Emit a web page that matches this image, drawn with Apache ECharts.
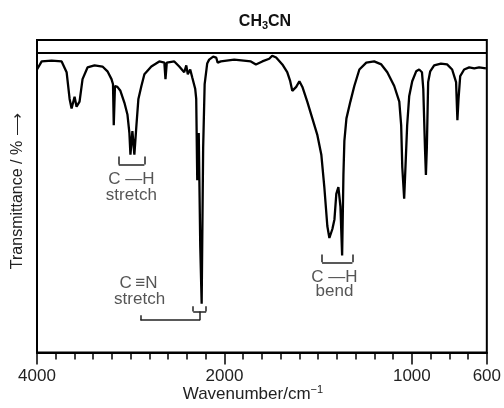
<!DOCTYPE html>
<html><head><meta charset="utf-8">
<script src="https://cdn.jsdelivr.net/npm/echarts@6/dist/echarts.min.js"></script>
<style>html,body{margin:0;padding:0;background:#fff}#c{width:504px;height:408px}</style>
</head><body><div id="c"></div>
<script>
// Spectrum: wavenumber (cm-1) and transmittance (%)
const wavenumbers = [4000,3950,3844,3737,3684,3652,3631,3599,3578,3546,3514,3461,3386,3301,3248,3205,3189,3181,3168,3142,3110,3067,3035,3014,3003,2982,2961,2939,2918,2886,2854,2780,2695,2641,2629,2615,2535,2482,2429,2407,2391,2365,2344,2312,2301,2290,2274,2258,2243,2227,2211,2184,2163,2120,2088,2072,2038,
1948,1859,1832,1798,1761,1745,1724,1691,1665,1649,1638,1617,1600,1584,1558,1531,1504,1483,1467,1451,1440,1424,1413,1403,1392,1381,1372,1365,1360,1349,1328,1307,1280,1243,1201,1163,1131,1094,1067,1057,1051,1041,1032,1025,1014,998,977,961,946,939,930,925,920,913,902,881,845,812,785,764,757,751,742,721,694,667,641,605];
const transmittance = [94.4,97.1,97.4,97.1,93.5,84.6,81.4,85.3,82.0,83.7,91.2,95.1,95.8,95.4,93.8,91.2,89.5,75.8,88.9,88.6,87.3,83.3,79.4,73.2,66.0,73.9,66.0,75.8,84.6,88.9,92.8,95.4,97.1,96.7,91.2,96.7,97.1,95.4,93.5,95.8,92.8,94.4,91.8,88.0,84.6,57.5,73.2,35.6,16.3,68.3,89.5,96.4,97.7,98.7,98.4,96.7,97.1,
97.7,97.1,96.1,97.1,98.0,99.0,98.4,96.1,93.5,90.5,87.3,88.6,90.5,88.6,83.7,78.1,72.5,66.0,55.2,42.2,38.2,41.2,44.4,52.9,55.2,48.7,32.4,59.5,70.6,78.1,83.7,88.9,94.4,96.7,97.1,96.1,93.5,88.9,83.7,75.8,61.8,51.3,65.0,75.8,85.6,90.5,93.8,94.4,93.5,87.9,68.3,59.2,68.3,90.2,93.8,95.8,96.4,96.1,94.4,90.2,77.5,84.6,92.2,94.4,95.1,94.8,95.1,94.8];
const tickLabels = [4000, 2000, 1000, 600];
const referenceLine = 100;

// Annotation texts: [wavenumber, transmittance, text]
const annotationTexts = [
  [2993, 57.8, 'C —H'], [2993, 52.6, 'stretch'],
  [2917, 23.2, 'C\u2009\u2261N'], [2905, 17.6, 'stretch'],
  [1413, 25.2, 'C —H'], [1413, 20.3, 'bend']
];
// Bracket segments: [w1, t1, w2, t2]
const bracketSegments = [
  [3128,65.4,3128,62.7],[3128,62.7,2854,62.7],[2854,62.7,2854,65.4],
  [2333,15.4,2333,13.7],[2333,13.7,2195,13.7],[2195,13.7,2195,15.4],
  [2260,13.7,2260,10.8],[2260,10.8,2897,10.8],[2897,10.8,2897,12.4],
  [1479,32.7,1479,30.1],[1479,30.1,1317,30.1],[1317,30.1,1317,32.7]
];

// Axis scale: 4000-2000 compressed 2x relative to 2000-600
function toU(w){ return w >= 2000 ? (4000 - w) / 2 : 1000 + (2000 - w); }
function fromU(u){ return u <= 1000 ? 4000 - 2 * u : 2000 - (u - 1000); }

const font = "'Liberation Sans', Arial, Helvetica, sans-serif";
const chart = echarts.init(document.getElementById('c'), null, {renderer: 'canvas'});

const spectrum = wavenumbers.map((w, i) => [toU(w), transmittance[i]]);
const tickU = tickLabels.map(toU);

chart.setOption({
  animation: false,
  backgroundColor: '#fff',
  title: {
    text: '{b|CH}{s|3}{b|CN}',
    left: 260, top: 8, textAlign: 'center',
    textStyle: {
      rich: {
        b: {fontFamily: font, fontWeight: 'bold', fontSize: 16, color: '#111'},
        s: {fontFamily: font, fontWeight: 'bold', fontSize: 11, color: '#111', padding: [7, 0, 0, 0]}
      }
    }
  },
  grid: {left: 37, top: 40, width: 450, height: 319, show: true, borderColor: '#000', borderWidth: 2, backgroundColor: 'transparent'},
  xAxis: [{
    type: 'value', min: 0, max: 2400, interval: 100, position: 'bottom',
    axisLine: {show: true, onZero: false, lineStyle: {color: '#000', width: 2}},
    axisTick: {show: true, inside: false, length: 7, lineStyle: {color: '#000', width: 1.5}},
    axisLabel: {show: false},
    splitLine: {show: false},
    name: '{a|Wavenumber/cm}{s|\u22121}',
    nameLocation: 'middle', nameGap: 32,
    nameTextStyle: {
      padding: [0, 18, 0, 0],
      rich: {
        a: {fontFamily: font, fontSize: 17, color: '#222'},
        s: {fontFamily: font, fontSize: 11, color: '#222', padding: [0, 0, 9, 0]}
      }
    }
  }, {
    type: 'value', min: 0, max: 2400, position: 'bottom',
    axisLine: {show: false, onZero: false},
    axisTick: {show: true, inside: false, length: 12, customValues: tickU, lineStyle: {color: '#000', width: 1.5}},
    axisLabel: {show: true, customValues: tickU, margin: 15, fontFamily: font, fontSize: 17, color: '#222',
      formatter: v => String(Math.round(fromU(v)))},
    splitLine: {show: false}
  }],
  yAxis: {
    type: 'value', min: 0, max: 104.25,
    axisLine: {show: false}, axisTick: {show: false}, axisLabel: {show: false}, splitLine: {show: false},
    name: 'Transmittance / % \u27F6',
    nameLocation: 'middle', nameGap: 11, nameRotate: 90,
    nameTextStyle: {fontFamily: font, fontSize: 16, color: '#222', padding: [0, 0, 0, 10]}
  },
  series: [{
    type: 'line', data: spectrum, xAxisIndex: 0, showSymbol: false, smooth: false,
    lineStyle: {color: '#000', width: 2.3}, silent: true,
    markLine: {
      silent: true, symbol: 'none', label: {show: false},
      lineStyle: {color: '#000', width: 2, type: 'solid'},
      data: [{yAxis: referenceLine}]
    }
  }, {
    type: 'line', data: [], xAxisIndex: 0, silent: true,
    markLine: {
      silent: true, symbol: 'none', label: {show: false}, animation: false,
      lineStyle: {color: '#222', width: 1.5, type: 'solid'},
      data: bracketSegments.map(s => [{coord: [toU(s[0]), s[1]]}, {coord: [toU(s[2]), s[3]]}])
    }
  }, {
    type: 'scatter', xAxisIndex: 0, silent: true, symbolSize: 0,
    data: annotationTexts.map(a => [toU(a[0]), a[1], a[2]]),
    label: {show: true, position: 'inside', formatter: p => p.value[2], fontFamily: font, fontSize: 17, color: '#2a2a2a'}
  }]
});
</script></body></html>
